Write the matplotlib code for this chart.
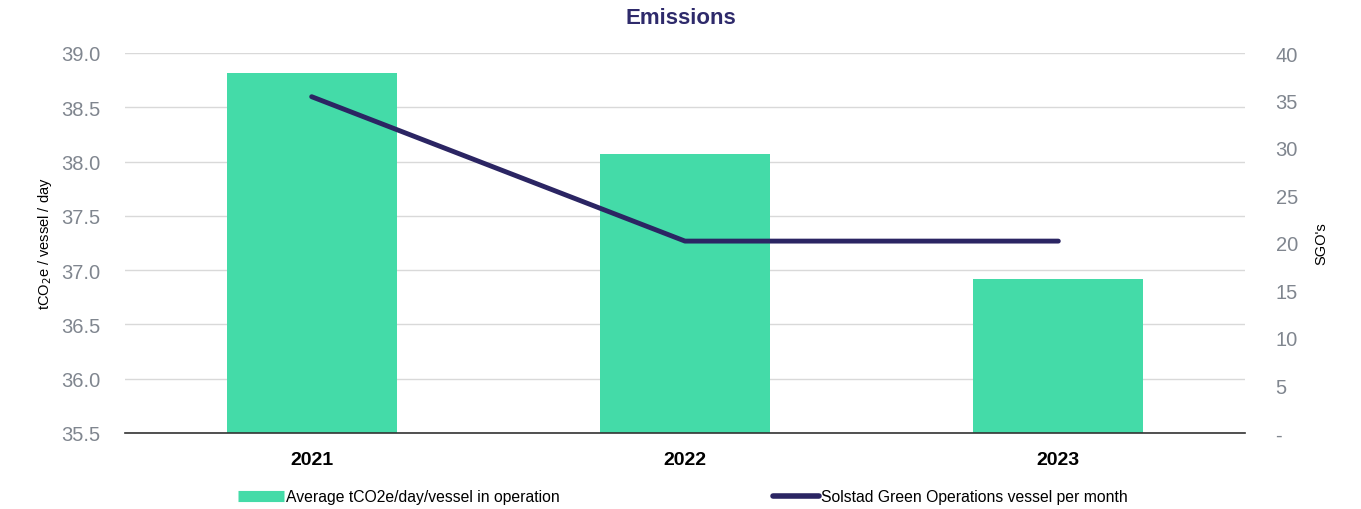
import matplotlib.pyplot as plt
from matplotlib.lines import Line2D

plt.rcParams['font.family'] = ['Liberation Sans', 'DejaVu Sans']

years = ['2021', '2022', '2023']
emissions = [38.82, 38.07, 36.92]
sgo_per_month = [35.4, 20.2, 20.2]

bar_color = '#44DBA8'
line_color = '#2B2563'
tick_color = '#80868F'

fig = plt.figure(figsize=(13.61, 5.10), dpi=100)
ax = fig.add_axes([125 / 1361, 1 - 434 / 510, 1120 / 1361, 380 / 510])

x = range(len(years))
ax.bar(x, emissions, width=0.455, color=bar_color, zorder=2)
ax.set_xlim(-0.5, 2.5)
ax.set_ylim(35.5, 39.0)
ax.set_yticks([35.5 + 0.5 * i for i in range(8)])
ax.set_yticklabels([f'{35.5 + 0.5 * i:.1f}' for i in range(8)])
ax.set_xticks(list(x))
ax.set_xticklabels(years, fontsize=14, fontweight='bold', color='black')
ax.tick_params(axis='x', length=0, pad=13)
ax.tick_params(axis='y', length=0, labelsize=14.5, labelcolor=tick_color, pad=18)
ax.grid(axis='y', color='#D9D9D9', linewidth=1, zorder=0)
for s in ['top', 'right', 'left']:
    ax.spines[s].set_visible(False)
ax.spines['bottom'].set_color('#333333')
ax.spines['bottom'].set_linewidth(1.2)
ax.spines['bottom'].set_zorder(3)
ax.set_ylabel('tCO$_2$e / vessel / day', fontsize=10.5, labelpad=5)

ax2 = ax.twinx()
ax2.plot(x, sgo_per_month, color=line_color, linewidth=3.5,
         solid_capstyle='round', zorder=4)
ax2.set_ylim(0, 40)
ax2.set_yticks(range(0, 41, 5))
ax2.set_yticklabels(['-'] + [str(v) for v in range(5, 41, 5)])
ax2.tick_params(axis='y', length=0, labelsize=14.5, labelcolor=tick_color, pad=22)
for s in ['top', 'right', 'left', 'bottom']:
    ax2.spines[s].set_visible(False)
ax2.set_ylabel("SGO's", fontsize=10.5, labelpad=12)

fig.text(0.5, 1 - 18 / 510, 'Emissions', ha='center', va='center', fontsize=16,
         fontweight='bold', color='#2E2A6B')

handles = [
    Line2D([], [], color=bar_color, linewidth=8, solid_capstyle='butt'),
    Line2D([], [], color=line_color, linewidth=4, solid_capstyle='round'),
]
labels = ['Average tCO2e/day/vessel in operation',
          'Solstad Green Operations vessel per month']
fig.legend(handles, labels, loc='center left',
           bbox_to_anchor=(224 / 1361, 1 - 498 / 510),
           ncol=2, frameon=False, fontsize=11.3, handlelength=2.9,
           handletextpad=0.15, columnspacing=13.6)

fig.savefig('out.png', dpi=100)
